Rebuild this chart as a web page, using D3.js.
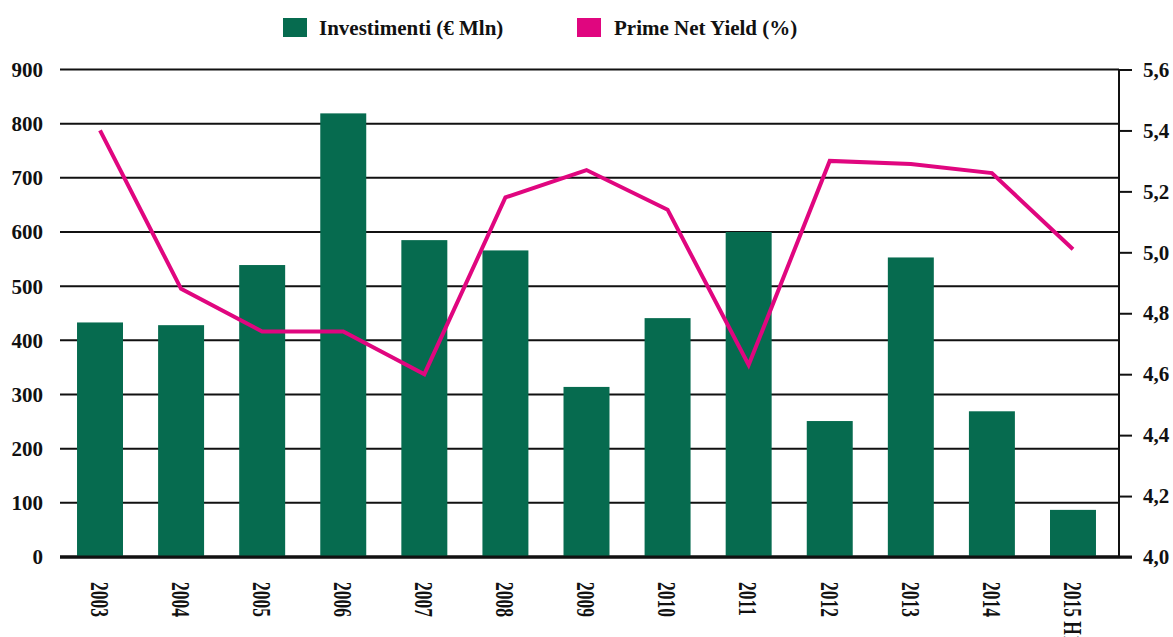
<!DOCTYPE html>
<html>
<head>
<meta charset="utf-8">
<script src="https://cdn.jsdelivr.net/npm/d3@7"></script>
<style>
  body { margin: 0; background: #fff; }
  text { font-family: "Liberation Serif", "Times New Roman", serif; font-weight: bold; fill: #111; }
</style>
</head>
<body>
<svg id="chart" width="1173" height="637"></svg>
<script>
var years = ["2003","2004","2005","2006","2007","2008","2009","2010","2011","2012","2013","2014","2015 H1"];
var investimenti = [433, 428, 539, 819, 585, 566, 314, 441, 600, 251, 553, 269, 87];
var primeYield = [5.40, 4.88, 4.74, 4.74, 4.60, 5.18, 5.27, 5.14, 4.63, 5.30, 5.29, 5.26, 5.01];
var leftTicks = [0,100,200,300,400,500,600,700,800,900];
var rightTicks = [4.0,4.2,4.4,4.6,4.8,5.0,5.2,5.4,5.6];

var margin = {top: 69.5, left: 60, right: 54, bottom: 80};
var width = 1173 - margin.left - margin.right,
    height = 637 - margin.top - margin.bottom;

var svg = d3.select("#chart")
    .append("g")
    .attr("transform", "translate(" + margin.left + "," + margin.top + ")");

var x = d3.scaleBand().domain(years).range([0, width - 6]).paddingInner(0.433).paddingOuter(0.21);
var y = d3.scaleLinear().domain([0, 900]).range([height, 0]);
var y2 = d3.scaleLinear().domain([4.0, 5.6]).range([height, 0]);

// gridlines
svg.selectAll("line.grid")
    .data(leftTicks)
    .enter().append("line")
    .attr("class", "grid")
    .attr("x1", 0)
    .attr("x2", width)
    .attr("y1", function(d) { return y(d); })
    .attr("y2", function(d) { return y(d); })
    .attr("stroke", "#111")
    .attr("stroke-width", function(d) { return d === 0 ? 3 : 2; });

// left labels
svg.selectAll("text.yl")
    .data(leftTicks)
    .enter().append("text")
    .attr("class", "yl")
    .attr("x", -17)
    .attr("y", function(d) { return y(d); })
    .attr("dy", "0.35em")
    .attr("text-anchor", "end")
    .style("font-size", "21px")
    .text(function(d) { return d; });

// bars
svg.selectAll("rect.bar")
    .data(investimenti)
    .enter().append("rect")
    .attr("class", "bar")
    .attr("x", function(d, i) { return x(years[i]); })
    .attr("width", x.bandwidth())
    .attr("y", function(d) { return y(d); })
    .attr("height", function(d) { return height - y(d); })
    .attr("fill", "#066b4f");

// baseline on top of bars
svg.append("line")
    .attr("x1", 0).attr("x2", width + 13)
    .attr("y1", y(0)).attr("y2", y(0))
    .attr("stroke", "#111").attr("stroke-width", 3);

// right axis
var yAxisRight = d3.axisRight(y2)
    .tickValues(rightTicks)
    .tickSize(13)
    .tickPadding(11)
    .tickFormat(function(d) { return d3.format(".1f")(d).replace(".", ","); });

var gr = svg.append("g")
    .attr("class", "y-axis-right")
    .attr("transform", "translate(" + width + ",0)")
    .call(yAxisRight);
gr.select(".domain").attr("stroke", "#111").attr("stroke-width", 2).attr("d", "M0," + height + "V0");
gr.selectAll(".tick line").attr("stroke", "#111").attr("stroke-width", 2);
gr.selectAll(".tick text")
    .style("font-size", "21px")
    .style("font-family", "Liberation Serif, serif")
    .style("font-weight", "bold")
    .attr("fill", "#111");

// x labels (glyphs look stretched across in the original)
svg.selectAll("text.xl")
    .data(years)
    .enter().append("text")
    .attr("class", "xl")
    .attr("transform", function(d) {
        return "translate(" + (x(d) + x.bandwidth() / 2) + "," + (height + 25) + ") rotate(90) scale(1,1.5)";
    })
    .attr("dy", "0.35em")
    .attr("text-anchor", "start")
    .style("font-size", "17.5px")
    .text(function(d) { return d; });

// yield line
svg.append("path")
    .datum(primeYield)
    .attr("fill", "none")
    .attr("stroke", "#e0067f")
    .attr("stroke-width", 4)
    .attr("stroke-linejoin", "miter")
    .attr("d", d3.line()
        .x(function(d, i) { return x(years[i]) + x.bandwidth() / 2; })
        .y(function(d) { return y2(d); }));

// legend
var legend = d3.select("#chart").append("g");
legend.append("rect").attr("x", 283).attr("y", 18).attr("width", 24).attr("height", 19).attr("fill", "#066b4f");
legend.append("text").attr("x", 319).attr("y", 28).attr("dy", "0.35em").style("font-size", "21px").text("Investimenti (€ Mln)");
legend.append("rect").attr("x", 577).attr("y", 18).attr("width", 24).attr("height", 19).attr("fill", "#e0067f");
legend.append("text").attr("x", 614).attr("y", 28).attr("dy", "0.35em").style("font-size", "21px").text("Prime Net Yield (%)");
</script>
</body>
</html>
